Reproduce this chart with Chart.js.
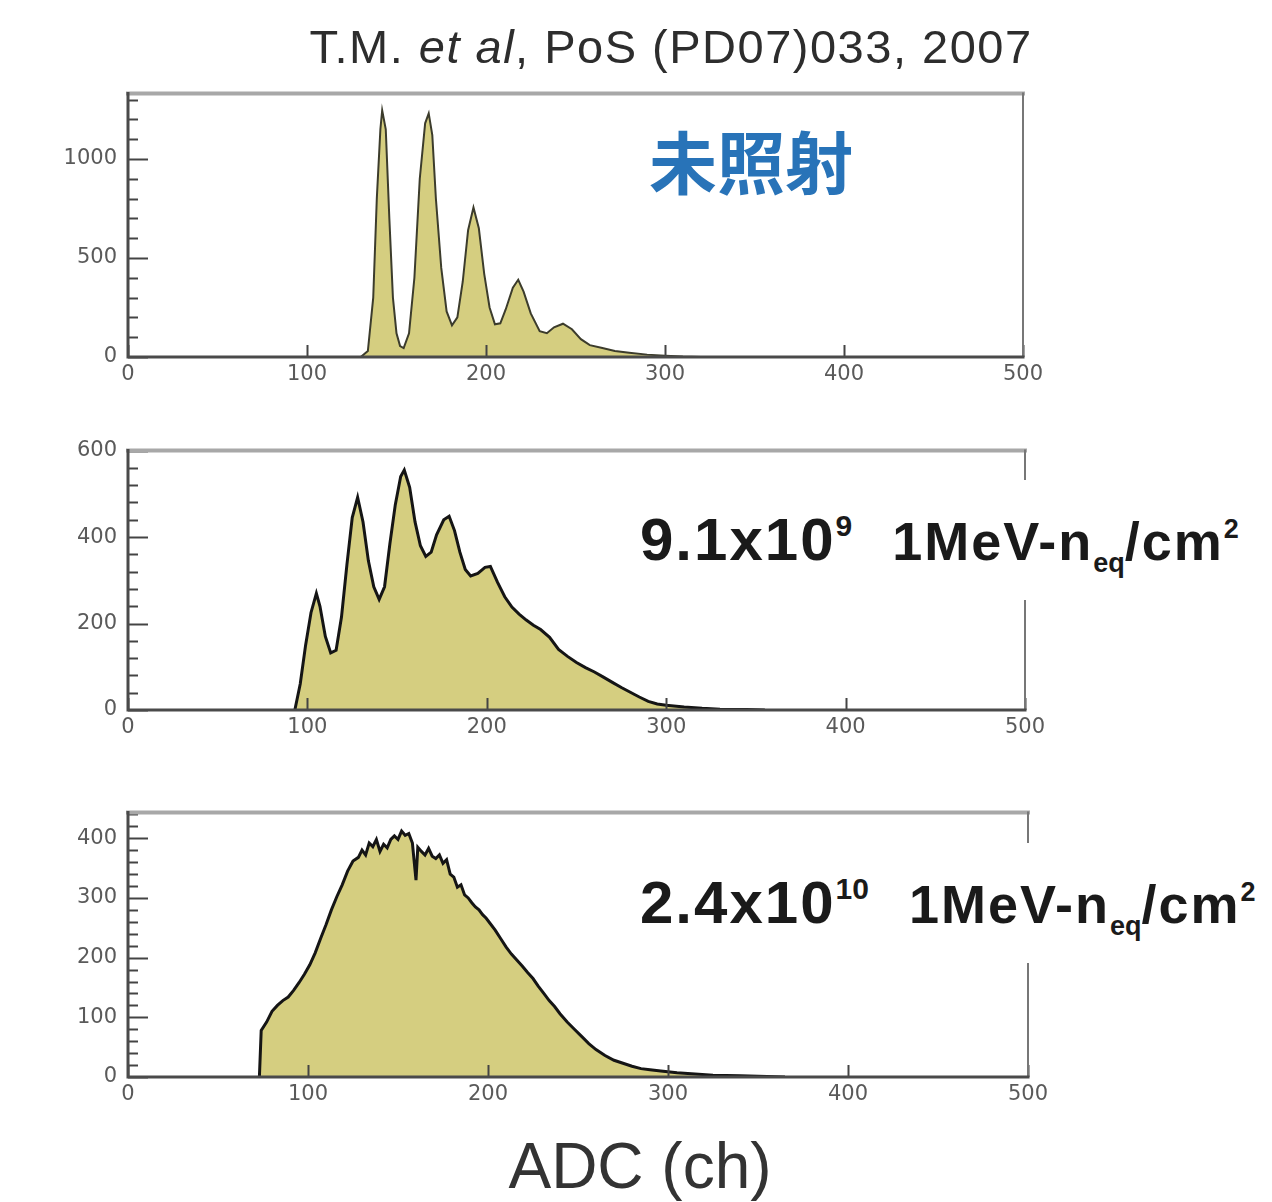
<!DOCTYPE html>
<html>
<head>
<meta charset="utf-8">
<script src="https://cdn.jsdelivr.net/npm/chart.js@4/dist/chart.umd.min.js"></script>
<style>
  html, body { margin: 0; padding: 0; background: #fff; }
  #page { position: relative; width: 1272px; height: 1202px; overflow: hidden; background: #fff;
          font-family: "Liberation Sans", Arial, sans-serif; }
  canvas { position: absolute; left: 0; }
  .txt { position: absolute; white-space: nowrap; }
  .title { left: 671px; top: 23px; transform: translateX(-50%); font-size: 47px; line-height: 47px; letter-spacing: 1.5px; color: #2d2d2d; }
  .title i { font-style: italic; }
  .tag { left: 751px; top: 160px; transform: translate(-50%, -50%); font-family: "Noto Sans CJK JP", "Noto Sans CJK SC", sans-serif;
         font-weight: bold; font-size: 68px; line-height: 68px; color: #2873b8; }
  .flu { position: absolute; background: #fff; padding: 30px 8px 30px 0; font-weight: bold; color: #1a1a1a;
         font-size: 60px; line-height: 60px; height: 60px; white-space: nowrap; letter-spacing: 2px; }
  .flu .unit { font-size: 54px; margin-left: 40px; letter-spacing: 2px; }
  .flu sup, .flu sub { font-size: 0.5em; line-height: 0; vertical-align: 0; position: relative; letter-spacing: 0; }
  .flu sup { top: -0.8em; }
  .flu sub { top: 0.45em; }
  .axis { left: 640px; top: 1134px; transform: translateX(-50%); font-size: 64px; line-height: 64px; color: #333; }
</style>
</head>
<body>
<div id="page">
  <canvas id="c1" width="1272" height="320" style="top:70px"></canvas>
  <canvas id="c2" width="1272" height="320" style="top:427px"></canvas>
  <canvas id="c3" width="1272" height="325" style="top:789px"></canvas>

  <div class="txt title">T.M. <i>et al</i>, PoS (PD07)033, 2007</div>
  <div class="txt tag">未照射</div>
  <div class="flu" style="left:640px; top:480px;">9.1x10<sup>9</sup><span class="unit">1MeV-n<sub>eq</sub>/cm<sup>2</sup></span></div>
  <div class="flu" style="left:640px; top:843px;">2.4x10<sup>10</sup><span class="unit">1MeV-n<sub>eq</sub>/cm<sup>2</sup></span></div>
  <div class="txt axis">ADC (ch)</div>
</div>

<script>
// ADC spectra (channel, counts) for the three fluence conditions
const adcUnirradiated = [130,134,137,139,141,142,144,146,148,150,152,154,157,160,163,166,168,170,172,175,178,181,184,187,190,193,196,199,202,205,208,211,215,218,221,225,230,234,238,243,248,253,258,265,272,280,290,300,310,320];
const cntUnirradiated = [0,30,300,800,1150,1245,1150,700,300,120,55,45,120,400,900,1180,1230,1120,800,450,230,160,200,380,640,755,650,420,250,165,170,240,350,390,330,220,130,120,150,168,140,90,60,45,30,22,12,6,2,0];

const adcFluence9 = [93,96,99,102,105,107,110,113,116,119,122,125,128,131,134,137,140,143,146,149,152,154,157,160,163,166,169,172,176,179,182,185,188,191,195,199,202,206,210,214,218,222,226,230,235,240,245,250,255,260,265,270,275,280,285,290,295,300,310,320,330,345,355];
const cntFluence9 = [0,60,150,225,270,240,170,132,138,215,335,445,492,435,345,285,256,285,385,475,540,555,515,435,380,355,365,405,440,448,415,365,325,310,316,330,332,295,262,238,222,208,196,186,168,140,124,110,98,88,76,64,52,41,30,20,14,11,7,4,2,1,0];

const adcFluence10 = [73,74,77,80,83,86,89,92,95,98,101,104,107,110,113,116,119,122,125,128,130,132,134,136,138,140,142,144,146,148,150,152,154,156,158,160,161,163,165,167,169,171,173,175,177,179,181,183,185,187,189,191,193,195,197,199,201,204,207,210,213,216,219,222,225,228,231,234,237,240,244,248,252,256,260,265,270,275,280,285,290,296,305,315,325,340,355,365];
const cntFluence10 = [0,78,92,110,120,128,134,145,158,172,188,208,232,255,280,302,322,345,362,368,380,372,392,386,398,378,390,384,398,404,398,412,405,408,392,330,385,378,372,383,370,366,372,358,364,340,335,318,322,305,300,292,285,280,272,266,258,246,232,218,206,196,186,175,165,152,140,128,118,106,92,80,68,56,46,36,28,23,18,14,12,10,7,5,3,2,1,0];

// Axis tick labels
const xTicks = [0, 100, 200, 300, 400, 500];
const yTicksUnirradiated = [0, 500, 1000];
const yTicksFluence9 = [0, 200, 400, 600];
const yTicksFluence10 = [0, 100, 200, 300, 400];

const FILL = '#d5ce80';

// Frame and inward ROOT-style tick marks
const framePlugin = {
  id: 'frame',
  afterDatasetsDraw(chart, args, opts) {
    const ctx = chart.ctx;
    const ca = chart.chartArea;
    const ys = chart.scales.y, xs = chart.scales.x;
    ctx.save();
    ctx.strokeStyle = '#444';
    ctx.lineWidth = 2;
    // y ticks: major at labels, four minor between
    const step = opts.ystep, minor = step / 5;
    for (let v = 0; v <= ys.max + 1e-9; v += minor) {
      const y = Math.round(ys.getPixelForValue(v)) + 0.5;
      const major = Math.abs(v / step - Math.round(v / step)) < 1e-6;
      ctx.beginPath();
      ctx.moveTo(ca.left, y);
      ctx.lineTo(ca.left + (major ? 20 : 10), y);
      ctx.stroke();
    }
    // x ticks
    xTicks.forEach(v => {
      const x = Math.round(xs.getPixelForValue(v)) + 0.5;
      ctx.beginPath();
      ctx.moveTo(x, ca.bottom);
      ctx.lineTo(x, ca.bottom - 12);
      ctx.stroke();
    });
    // frame
    ctx.lineCap = 'square';
    ctx.strokeStyle = '#a8a8a8'; ctx.lineWidth = 4;
    ctx.beginPath(); ctx.moveTo(ca.left, ca.top); ctx.lineTo(ca.right, ca.top); ctx.stroke();
    ctx.strokeStyle = '#777'; ctx.lineWidth = 2;
    ctx.beginPath(); ctx.moveTo(ca.right, ca.top); ctx.lineTo(ca.right, ca.bottom); ctx.stroke();
    ctx.strokeStyle = '#4a4a4a'; ctx.lineWidth = 3;
    ctx.beginPath(); ctx.moveTo(ca.left, ca.top); ctx.lineTo(ca.left, ca.bottom); ctx.lineTo(ca.right, ca.bottom); ctx.stroke();
    ctx.restore();
  }
};

function makePanel(id, xs, ys, yTicks, o) {
  const pts = xs.map((x, i) => ({ x: x, y: ys[i] }));
  const tickFont = { family: 'DejaVu Sans', size: 21 };
  return new Chart(document.getElementById(id), {
    type: 'line',
    data: { datasets: [{ data: pts, fill: 'origin', backgroundColor: FILL, borderColor: o.line,
                         borderWidth: o.lw, pointRadius: 0, tension: 0 }] },
    options: {
      responsive: false, animation: false, devicePixelRatio: 1,
      layout: { padding: { top: o.padTop, right: o.padRight, left: 0, bottom: 0 } },
      plugins: { legend: { display: false }, tooltip: { enabled: false }, frame: { ystep: yTicks[1] - yTicks[0] } },
      scales: {
        x: {
          type: 'linear', min: xTicks[0], max: xTicks[xTicks.length - 1],
          grid: { display: false, drawTicks: false }, border: { display: false },
          afterBuildTicks(s) { s.ticks = xTicks.map(v => ({ value: v })); },
          ticks: { padding: 5, maxRotation: 0, autoSkip: false, color: '#5a5a5a', font: tickFont, callback: v => String(v) },
          afterFit(s) { s.height = o.xh; }
        },
        y: {
          type: 'linear', min: 0, max: o.ymax,
          grid: { display: false, drawTicks: false }, border: { display: false },
          afterBuildTicks(s) { s.ticks = yTicks.map(v => ({ value: v })); },
          ticks: { padding: 11, autoSkip: false, color: '#5a5a5a', font: tickFont, callback: v => String(v) },
          afterFit(s) { s.width = 128; }
        }
      }
    },
    plugins: [framePlugin]
  });
}

makePanel('c1', adcUnirradiated, cntUnirradiated, yTicksUnirradiated, { ymax: 1330, padTop: 18, padRight: 1272 - 1023, xh: 33, line: '#3c3c2c', lw: 2 });
makePanel('c2', adcFluence9, cntFluence9, yTicksFluence9, { ymax: 600, padTop: 18, padRight: 1272 - 1025, xh: 37, line: '#151515', lw: 3 });
makePanel('c3', adcFluence10, cntFluence10, yTicksFluence10, { ymax: 443, padTop: 18, padRight: 1272 - 1028, xh: 37, line: '#151515', lw: 3 });
</script>
</body>
</html>
